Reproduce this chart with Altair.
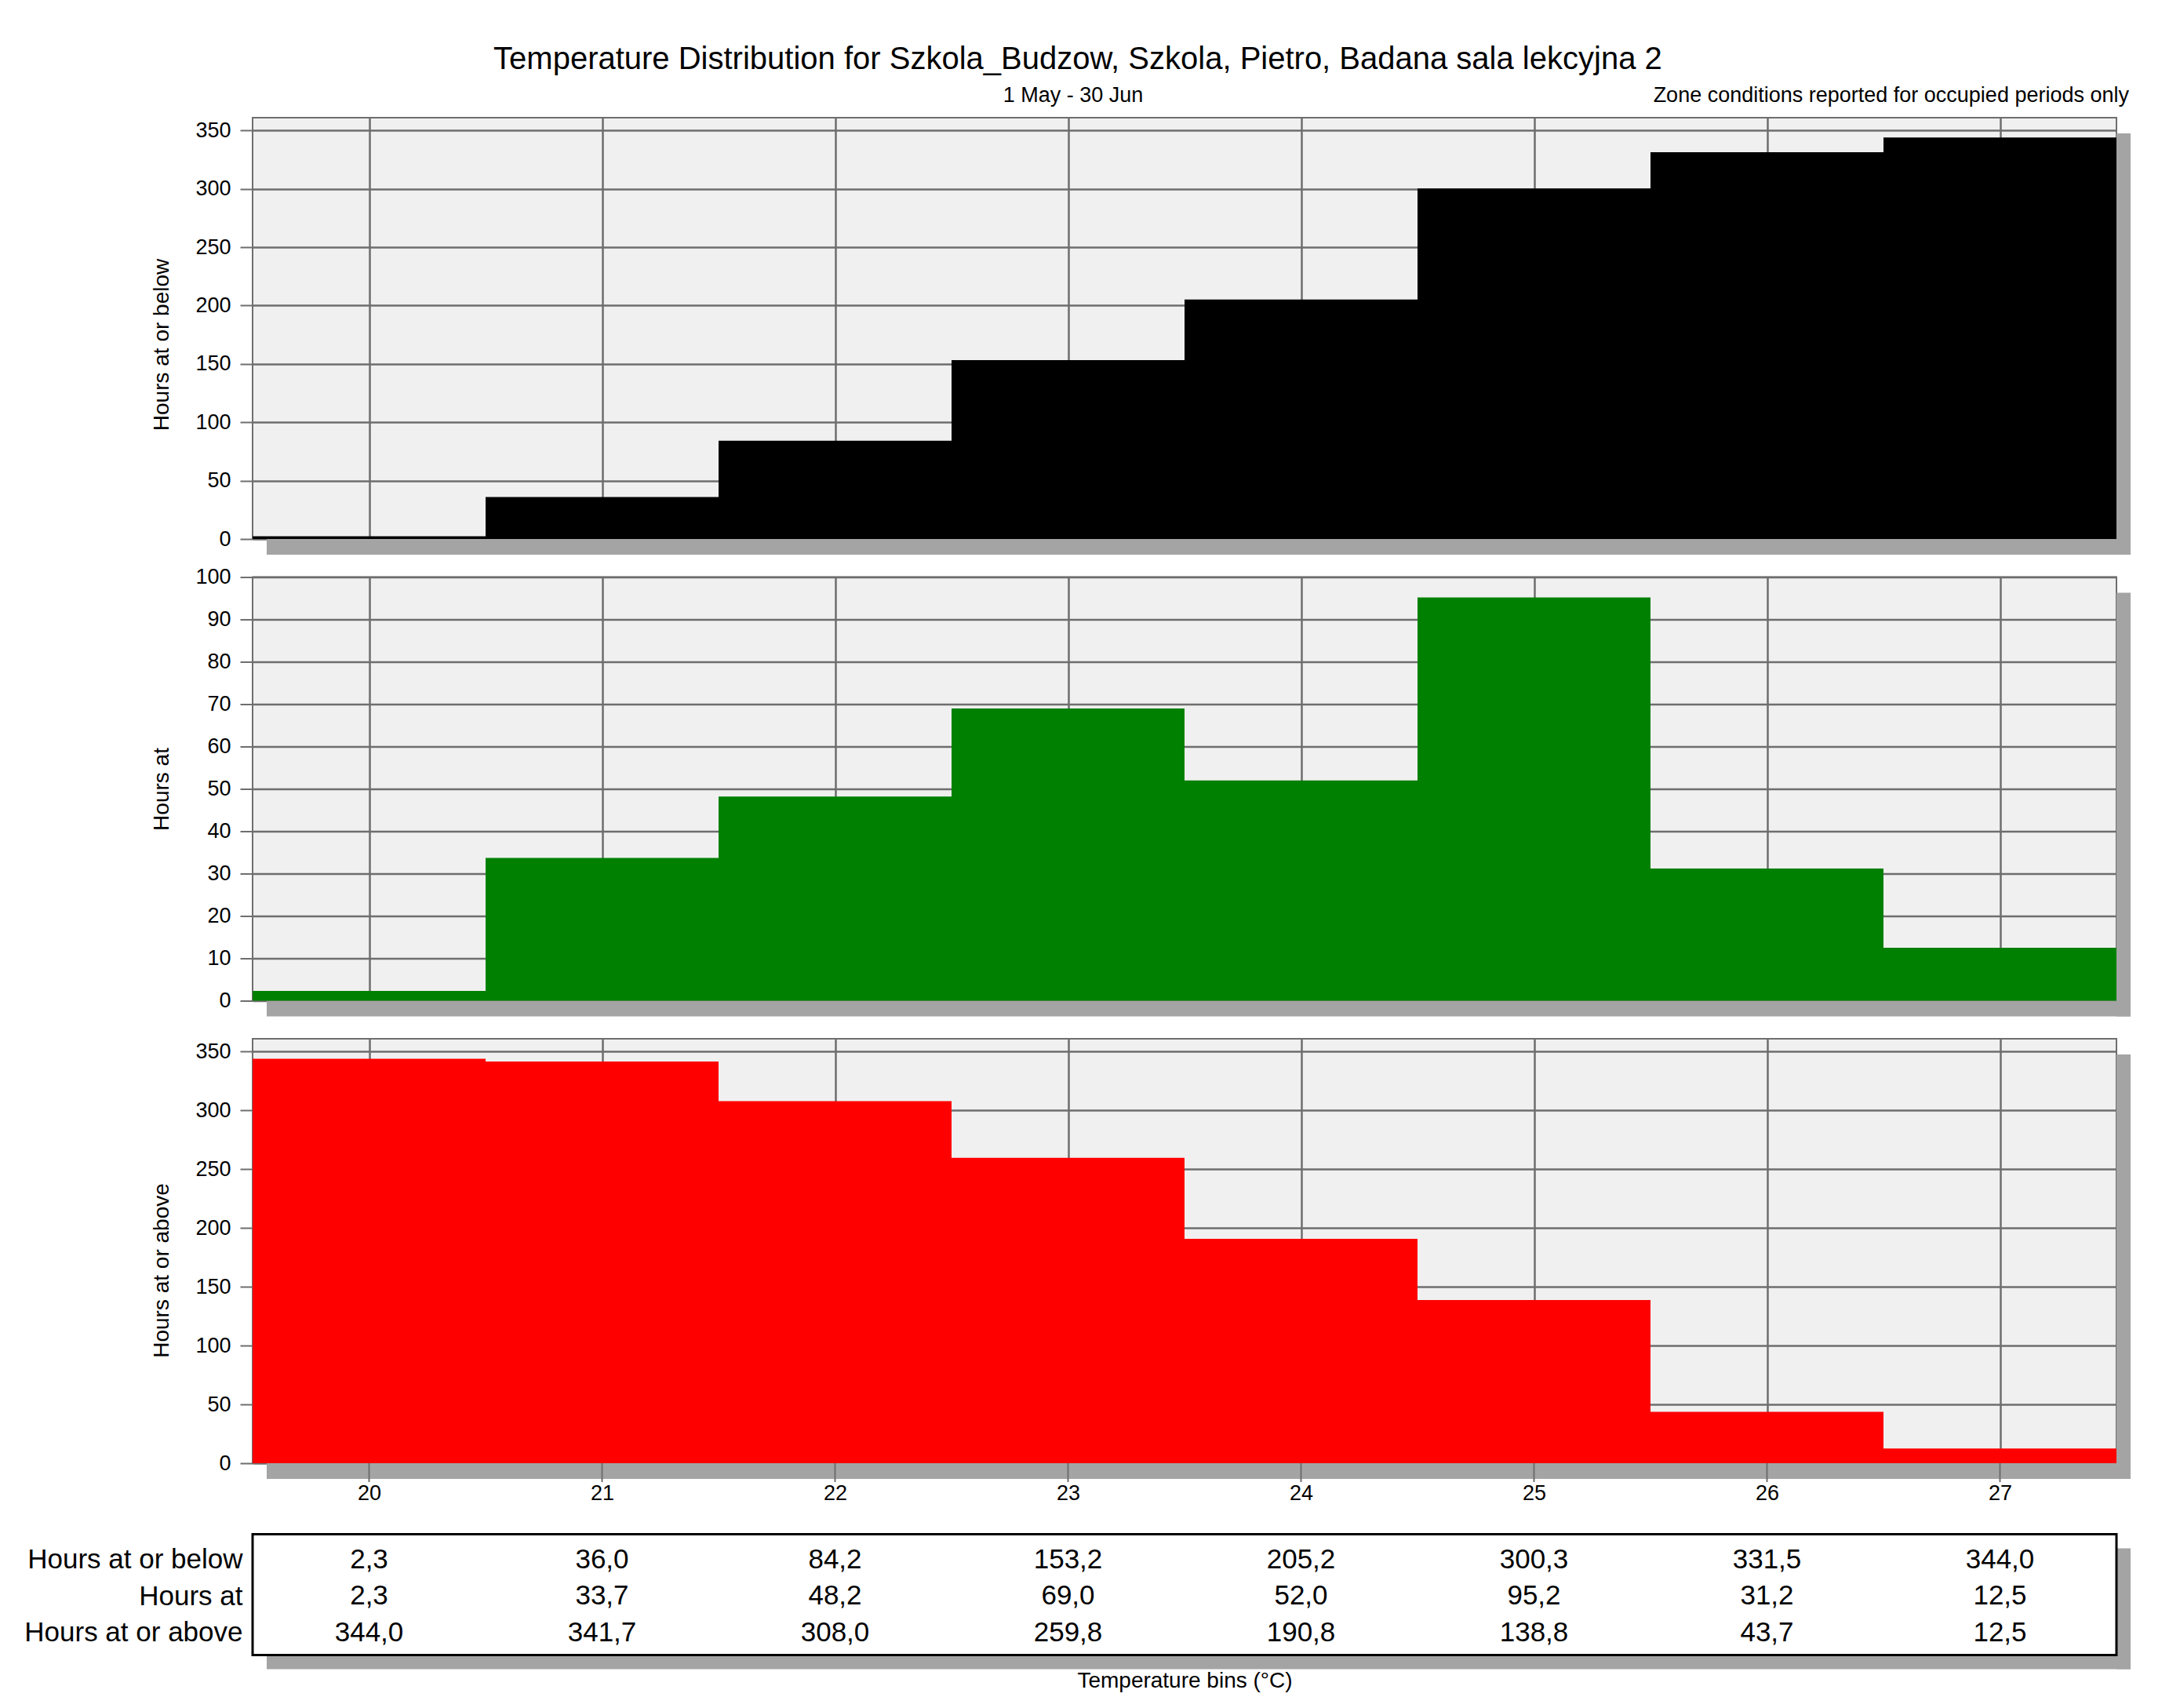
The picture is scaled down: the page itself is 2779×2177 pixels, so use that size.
import altair as alt
import pandas as pd

# ---- data ----
bins = [20, 21, 22, 23, 24, 25, 26, 27]
hours_below = [2.3, 36.0, 84.2, 153.2, 205.2, 300.3, 331.5, 344.0]
hours_at = [2.3, 33.7, 48.2, 69.0, 52.0, 95.2, 31.2, 12.5]
hours_above = [344.0, 341.7, 308.0, 259.8, 190.8, 138.8, 43.7, 12.5]
row_labels = ["Hours at or below", "Hours at", "Hours at or above"]
ticks_big = [0, 50, 100, 150, 200, 250, 300, 350]
ticks_small = [0, 10, 20, 30, 40, 50, 60, 70, 80, 90, 100]

main_title = "Temperature Distribution for Szkola_Budzow, Szkola, Pietro, Badana sala lekcyjna 2"
period_text = "1 May - 30 Jun"
note_text = "Zone conditions reported for occupied periods only"
x_title = "Temperature bins (°C)"

# ---- style ----
FONT = "Liberation Sans"
GRID = "#6e6e6e"
SHADOW = "#a4a4a4"
BG = "#f0f0f0"
W = 2376
H1, H2, H3 = 537, 540, 541
BOX_TOP, BOX_H = 42, 154
HT = BOX_TOP + BOX_H
SX = 18

df = pd.DataFrame({"t": bins, "below": hours_below, "at": hours_at, "above": hours_above})
df["t0"] = df["t"] - 0.5
df["t1"] = df["t"] + 0.5

rows = []
for name, vals in zip(row_labels, [hours_below, hours_at, hours_above]):
    for t, v in zip(bins, vals):
        rows.append({"row": name, "t": t, "label": f"{v:.1f}".replace(".", ",")})
tdf = pd.DataFrame(rows)


def xscale():
    return alt.Scale(domain=[19.5, 27.5], nice=False, zero=False)


def shadow(w, y0, y1, sy):
    base = alt.Chart(alt.Data(values=[{"k": 1}]))
    right = base.mark_rect(color=SHADOW).encode(
        x=alt.value(w), x2=alt.value(w + SX), y=alt.value(y0 + sy), y2=alt.value(y1 + sy)
    )
    bottom = base.mark_rect(color=SHADOW).encode(
        x=alt.value(SX), x2=alt.value(w + SX), y=alt.value(y1), y2=alt.value(y1 + sy)
    )
    return [right, bottom]


def panel(field, color, h, ymax, yticks, ytitle, title_y, show_x=False, extra=None):
    x_axis = alt.Axis(
        values=bins, grid=True, gridColor=GRID, gridWidth=2.5, labels=show_x,
        ticks=False, domain=False, title=None, format="d",
        labelFont=FONT, labelFontSize=27, labelColor="#000", labelPadding=25,
    )
    y_axis = alt.Axis(
        values=yticks, grid=True, gridColor=GRID, gridWidth=2.5, domain=False,
        ticks=True, tickSize=16, tickColor=GRID, tickWidth=2,
        labelFont=FONT, labelFontSize=27, labelColor="#000", labelPadding=12,
        title=ytitle, titleFont=FONT, titleFontSize=28, titleFontWeight="normal",
        titleColor="#000", titleX=-116, titleY=title_y, titleBaseline="middle",
    )
    bars = alt.Chart(df).mark_rect(color=color).encode(
        x=alt.X("t0:Q", scale=xscale(), axis=x_axis),
        x2="t1:Q",
        y=alt.Y(f"{field}:Q", scale=alt.Scale(domain=[0, ymax], nice=False), axis=y_axis),
        y2=alt.datum(0),
    )
    layers = shadow(W, 0, h, 20) + [bars]
    if show_x:
        ticks = alt.Chart(df).mark_rule(color=GRID, strokeWidth=2).encode(
            x=alt.X("t:Q", scale=xscale(), axis=x_axis),
            y=alt.value(h), y2=alt.value(h + 24),
        )
        layers.append(ticks)
    if extra:
        layers += extra
    return alt.layer(*layers).properties(
        width=W, height=h,
        view=alt.ViewBackground(fill=BG, stroke=GRID, strokeWidth=2),
    )


period_mark = alt.Chart(alt.Data(values=[{"s": period_text}])).mark_text(
    font=FONT, fontSize=27, color="#000", align="center", baseline="middle"
).encode(x=alt.value(1046), y=alt.value(-28), text="s:N")
note_mark = alt.Chart(alt.Data(values=[{"s": note_text}])).mark_text(
    font=FONT, fontSize=27, color="#000", align="right", baseline="middle"
).encode(x=alt.value(2392), y=alt.value(-28), text="s:N")

p1 = panel("below", "#000000", H1, 361, ticks_big, "Hours at or below", 289,
           extra=[period_mark, note_mark])
p2 = panel("at", "#008000", H2, 100, ticks_small, "Hours at", 270)
p3 = panel("above", "#ff0000", H3, 361, ticks_big, "Hours at or above", 295, show_x=True)

box = alt.Chart(alt.Data(values=[{"k": 1}])).mark_rect(
    fill="white", stroke="#000", strokeWidth=3
).encode(x=alt.value(0), x2=alt.value(W), y=alt.value(BOX_TOP), y2=alt.value(HT))

table_text = alt.Chart(tdf).mark_text(
    font=FONT, fontSize=35, color="#000", baseline="middle"
).encode(
    x=alt.X("t:Q", scale=xscale(), axis=alt.Axis(
        labels=False, ticks=False, domain=False, grid=False, title=x_title,
        titleFont=FONT, titleFontSize=28, titleFontWeight="normal",
        titleColor="#000", titlePadding=19)),
    y=alt.Y("row:N", sort=row_labels,
            scale=alt.Scale(type="point", padding=0, range=[BOX_TOP + 32, BOX_TOP + 125]),
            axis=alt.Axis(title=None, ticks=False, domain=False, grid=False,
                          labelFont=FONT, labelFontSize=35, labelColor="#000",
                          labelPadding=13, labelLimit=600)),
    text="label:N",
)
table = alt.layer(*(shadow(W, BOX_TOP, HT, 18) + [box, table_text])).properties(
    width=W, height=HT,
    view=alt.ViewBackground(fill="transparent", stroke="transparent", strokeWidth=0),
)

chart = alt.vconcat(p1, p2, p3, table, spacing=48.5, bounds="flush").properties(
    title=alt.TitleParams(text=main_title, font=FONT, fontSize=40, fontWeight="normal",
                          color="#000", anchor="middle", frame="bounds", offset=11),
    padding={"left": 22, "top": 48, "right": 10, "bottom": 10},
    background="white",
)

chart.save("out.html", embed_options={"renderer": "svg", "actions": False})
